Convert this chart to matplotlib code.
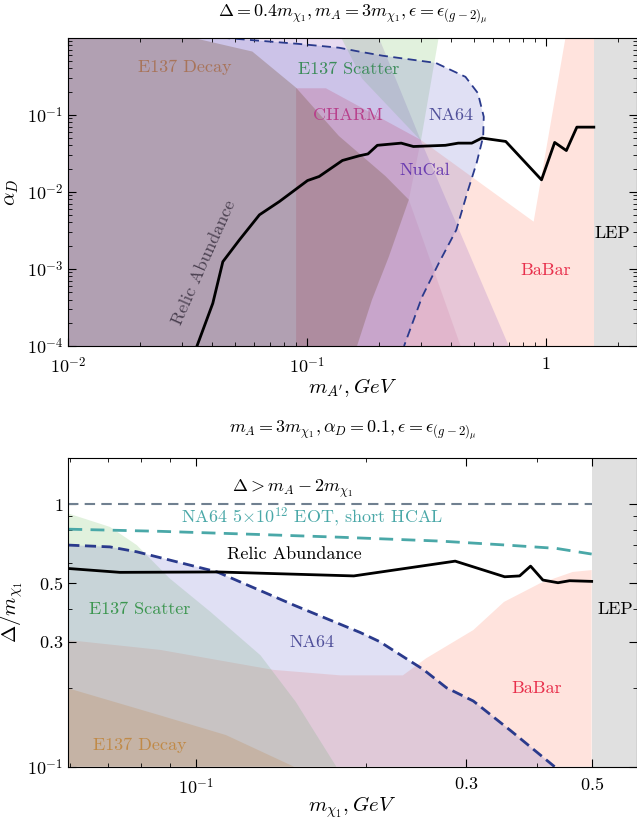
"""Inelastic DM exclusion plots: alpha_D vs m_A' and Delta/m_chi1 vs m_chi1."""

import matplotlib.pyplot as plt
from matplotlib.ticker import FixedLocator, FixedFormatter, LogLocator, NullFormatter

plt.rcParams.update({
    "font.family": "serif",
    "font.serif": ["cmr10"],
    "mathtext.fontset": "cm",
    "axes.formatter.use_mathtext": True,
    "axes.unicode_minus": False,
})

# ---------------- upper panel: alpha_D vs m_A' [GeV] ----------------
e137d_top_x = [0.01, 0.01, 0.033, 0.059, 0.09, 0.136, 0.213, 0.267, 0.22, 0.187, 0.162]
e137d_top_y = [1e-4, 1, 1, 0.66, 0.224, 0.053, 0.016, 0.0079, 0.00143, 3.95e-4, 1e-4]

nucal_x = [0.01, 0.01, 0.2, 0.30, 0.7]
nucal_y = [1e-4, 1, 1, 0.046, 1e-4]

scatter_top_x = [0.139, 0.356, 0.30, 0.17]
scatter_top_y = [1, 1, 0.046, 0.294]

charm_x = [0.09, 0.09, 0.12, 0.30, 0.267, 0.44]
charm_y = [1e-4, 0.22, 0.22, 0.047, 0.0079, 1e-4]

babar_top_x = [0.09, 0.09, 0.12, 0.30, 0.89, 1.21, 1.6, 1.6]
babar_top_y = [1e-4, 0.22, 0.22, 0.047, 0.0041, 1, 1, 1e-4]

na64_top_x = [0.0437, 0.0927, 0.136, 0.165, 0.207, 0.346, 0.461, 0.52, 0.55,
              0.547, 0.514, 0.473, 0.422, 0.357, 0.303, 0.255]
na64_top_y = [1, 0.828, 0.74, 0.66, 0.583, 0.47, 0.31, 0.19, 0.094,
              0.052, 0.024, 0.0106, 0.0032, 0.0012, 4.3e-4, 1e-4]

relic_top_x = [0.0346, 0.0403, 0.0444, 0.0521, 0.0632, 0.0766, 0.1005, 0.1124,
               0.1407, 0.1652, 0.18, 0.197, 0.248, 0.279, 0.38, 0.43, 0.49,
               0.54, 0.68, 0.96, 1.09, 1.22, 1.35, 1.59]
relic_top_y = [1e-4, 3.58e-4, 1.24e-3, 2.38e-3, 5.03e-3, 7.48e-3, 0.0140, 0.0158,
               0.0255, 0.0293, 0.031, 0.0401, 0.0428, 0.0387, 0.0401, 0.0428, 0.0428,
               0.0498, 0.045, 0.0143, 0.0437, 0.0343, 0.069, 0.069]

lep_top_min = 1.6

# ---------------- lower panel: Delta/m_chi1 vs m_chi1 [GeV] ----------------
babar_bot_x = [0.0595, 0.0595, 0.0864, 0.137, 0.18, 0.232, 0.255, 0.309, 0.35,
               0.405, 0.463, 0.5, 0.5]
babar_bot_y = [0.1, 0.304, 0.279, 0.234, 0.223, 0.223, 0.259, 0.332, 0.425,
               0.5, 0.553, 0.562, 0.1]

scatter_bot_x = [0.0595, 0.0595, 0.0705, 0.0786, 0.0899, 0.106, 0.13, 0.15, 0.177]
scatter_bot_y = [0.1, 0.924, 0.821, 0.70, 0.522, 0.39, 0.266, 0.177, 0.1]

e137d_bot_x = [0.0595, 0.0595, 0.0864, 0.113, 0.149]
e137d_bot_y = [0.1, 0.199, 0.157, 0.132, 0.1]

na64_bot_x = [0.0595, 0.0705, 0.0786, 0.109, 0.149, 0.195, 0.211, 0.252, 0.277,
              0.309, 0.36, 0.43]
na64_bot_y = [0.70, 0.689, 0.66, 0.553, 0.413, 0.325, 0.30, 0.235, 0.20,
              0.178, 0.137, 0.1]

na64_proj_x = [0.0595, 0.0864, 0.13, 0.18, 0.27, 0.354, 0.433, 0.5]
na64_proj_y = [0.805, 0.79, 0.768, 0.75, 0.725, 0.70, 0.68, 0.647]

kin_x = [0.0595, 0.5]
kin_y = [1.0, 1.0]

relic_bot_x = [0.0595, 0.0734, 0.109, 0.19, 0.287, 0.351, 0.373, 0.39, 0.41,
               0.436, 0.457, 0.5]
relic_bot_y = [0.570, 0.551, 0.553, 0.534, 0.608, 0.53, 0.534, 0.582, 0.515,
               0.503, 0.512, 0.509]

lep_bot_min = 0.5

# colours
c_babar = "#ff9078"
c_nucal = "#a070c8"
c_na64 = "#6464c8"
c_scatter = "#78c068"
c_charm = "#c06090"
c_e137d_top = "#80604f"
c_e137d_bot = "#c09060"
c_lep = "#e0e0e0"
c_dash = "#2a3a8c"

fig = plt.figure(figsize=(6.37, 8.21), dpi=100)
ax1 = fig.add_axes([68.3 / 637, 1 - 346 / 821, 0.892, 307.7 / 821])
ax2 = fig.add_axes([68.3 / 637, 1 - 766.7 / 821, 0.892, 308.4 / 821])


def style_axes(ax):
    ax.set_xscale("log")
    ax.set_yscale("log")
    ax.tick_params(which="both", direction="in", top=True, right=True,
                   labelsize=13)
    ax.tick_params(axis="x", which="both", pad=7)
    ax.tick_params(which="major", length=6)
    ax.tick_params(which="minor", length=3)
    ax.xaxis.set_minor_locator(LogLocator(subs=range(2, 10)))
    ax.yaxis.set_minor_locator(LogLocator(subs=range(2, 10)))
    ax.xaxis.set_minor_formatter(NullFormatter())
    ax.yaxis.set_minor_formatter(NullFormatter())


# upper panel
ax = ax1
style_axes(ax)
ax.fill(babar_top_x, babar_top_y, color=c_babar, alpha=0.25, lw=0)
ax.fill(nucal_x, nucal_y, color=c_nucal, alpha=0.25, lw=0)
ax.fill(charm_x, charm_y, color=c_charm, alpha=0.15, lw=0)
ax.fill(scatter_top_x, scatter_top_y, color=c_scatter, alpha=0.22, lw=0)
ax.fill([0.01, 0.01] + na64_top_x, [1e-4, 1] + na64_top_y, color=c_na64,
        alpha=0.2, lw=0)
ax.fill(e137d_top_x, e137d_top_y, color=c_e137d_top, alpha=0.35, lw=0)
ax.axvspan(lep_top_min, 10, color=c_lep, lw=0)
ax.plot(na64_top_x, na64_top_y, color=c_dash, ls=(0, (5, 3)), lw=1.3)
ax.plot(relic_top_x, relic_top_y, color="k", lw=2)

ax.set_xlim(0.01, 2.4)
ax.set_ylim(1e-4, 0.98)
ax.xaxis.set_major_locator(FixedLocator([0.01, 0.1, 1]))
ax.xaxis.set_major_formatter(FixedFormatter(["$10^{-2}$", "$10^{-1}$", "$1$"]))
ax.yaxis.set_major_locator(FixedLocator([1e-4, 1e-3, 1e-2, 1e-1]))
ax.yaxis.set_major_formatter(
    FixedFormatter(["$10^{-4}$", "$10^{-3}$", "$10^{-2}$", "$10^{-1}$"]))

ax.text(0.0307, 0.41, "E137 Decay", color="#a8745a", fontsize=13, ha="center", va="center")
ax.text(0.149, 0.384, "E137 Scatter", color="#3c8c5a", fontsize=13, ha="center", va="center")
ax.text(0.149, 0.097, "CHARM", color="#b8408c", fontsize=13, ha="center", va="center")
ax.text(0.40, 0.097, "NA64", color="#50509a", fontsize=13, ha="center", va="center")
ax.text(0.31, 0.0189, "NuCal", color="#6a3cb0", fontsize=13, ha="center", va="center")
ax.text(1.0, 9.7e-4, "BaBar", color="#e8304c", fontsize=13, ha="center", va="center")
ax.text(1.9, 2.9e-3, "LEP", color="k", fontsize=13, ha="center", va="center")
ax.text(0.0372, 1.19e-3, "Relic Abundance", color="#4a4050", fontsize=13,
        rotation=66, ha="center", va="center", rotation_mode="anchor")

# lower panel
ax = ax2
style_axes(ax)
ax.fill(babar_bot_x, babar_bot_y, color=c_babar, alpha=0.25, lw=0)
ax.fill(scatter_bot_x, scatter_bot_y, color=c_scatter, alpha=0.22, lw=0)
ax.fill(na64_bot_x + [0.0595], na64_bot_y + [0.1], color=c_na64, alpha=0.2, lw=0)
ax.fill(e137d_bot_x, e137d_bot_y, color=c_e137d_bot, alpha=0.3, lw=0)
ax.axvspan(lep_bot_min, 10, color=c_lep, lw=0)
ax.plot(kin_x, kin_y, color="#708090", ls=(0, (5, 3)), lw=1.5)
ax.plot(na64_proj_x, na64_proj_y, color="#4aa8a8", ls=(0, (5, 3)), lw=2)
ax.plot(na64_bot_x, na64_bot_y, color=c_dash, ls=(0, (4, 2)), lw=2)
ax.plot(relic_bot_x, relic_bot_y, color="k", lw=2)

ax.set_xlim(0.0595, 0.6)
ax.set_ylim(0.1, 1.5)
ax.xaxis.set_major_locator(FixedLocator([0.1, 0.3, 0.5]))
ax.xaxis.set_major_formatter(FixedFormatter(["$10^{-1}$", "$0.3$", "$0.5$"]))
ax.yaxis.set_major_locator(FixedLocator([0.1, 0.3, 0.5, 1]))
ax.yaxis.set_major_formatter(FixedFormatter(["$10^{-1}$", "$0.3$", "$0.5$", "$1$"]))

ax.text(0.148, 1.15, r"$\Delta > m_A - 2m_{\chi_1}$", color="k", fontsize=13,
        ha="center", va="center")
ax.text(0.16, 0.897, r"NA64 5$\times$10$^{12}$ EOT, short HCAL", color="#4aa8a8",
        fontsize=13, ha="center", va="center")
ax.text(0.149, 0.647, "Relic Abundance", color="k", fontsize=13, ha="center", va="center")
ax.text(0.0797, 0.398, "E137 Scatter", color="#3c9650", fontsize=13, ha="center", va="center")
ax.text(0.16, 0.298, "NA64", color="#50509a", fontsize=13, ha="center", va="center")
ax.text(0.399, 0.199, "BaBar", color="#e8304c", fontsize=13, ha="center", va="center")
ax.text(0.0797, 0.121, "E137 Decay", color="#c08a48", fontsize=13, ha="center", va="center")
ax.text(0.551, 0.398, "LEP", color="k", fontsize=13, ha="center", va="center")

# titles and axis labels
fig.text(0.5535, 1 - 14 / 821,
         r"$\Delta = 0.4m_{\chi_1}, m_A = 3m_{\chi_1}, \epsilon = \epsilon_{(g-2)_\mu}$",
         fontsize=13, ha="center", va="center")
fig.text(0.5535, 1 - 430 / 821,
         r"$m_A = 3m_{\chi_1}, \alpha_D = 0.1, \epsilon = \epsilon_{(g-2)_\mu}$",
         fontsize=13, ha="center", va="center")
fig.text(0.5535, 1 - 388 / 821, r"$m_{A^\prime}, GeV$", fontsize=15, ha="center", va="center")
fig.text(0.5535, 1 - 807 / 821, r"$m_{\chi_1}, GeV$", fontsize=15, ha="center", va="center")
fig.text(12 / 637, 1 - 192 / 821, r"$\alpha_D$", fontsize=15, rotation=90,
         ha="center", va="center")
fig.text(12 / 637, 1 - 612 / 821, r"$\Delta/m_{\chi_1}$", fontsize=15, rotation=90,
         ha="center", va="center")

fig.savefig("out.png", dpi=100)
